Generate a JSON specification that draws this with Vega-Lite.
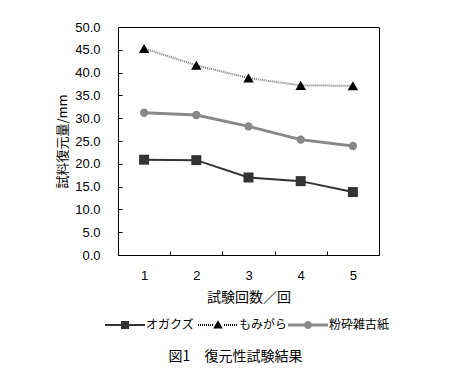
{
  "$schema": "https://vega.github.io/schema/vega-lite/v6.json",
  "width": 261,
  "height": 228,
  "autosize": {"type": "none"},
  "padding": {"left": 118, "top": 27, "right": 96, "bottom": 121},
  "background": "white",
  "config": {
    "view": {"stroke": "black", "strokeWidth": 1},
    "axis": {"labelFont": "Liberation Sans", "labelFontSize": 13, "labelColor": "black", "titleFont": "Noto Sans CJK JP", "titleFontSize": 13, "titleFontWeight": "normal", "titleColor": "black", "grid": false, "domain": false, "tickColor": "black"},
    "legend": {"title": null, "orient": "none", "labelOffset": 1, "symbolSize": 1600, "labelFont": "Noto Sans CJK JP", "labelFontSize": 12, "labelColor": "black", "symbolStrokeWidth": 0, "padding": 0}
  },
  "title": {"text": "図1　復元性試験結果", "orient": "bottom", "font": "Noto Sans CJK JP", "fontSize": 14, "fontWeight": "normal", "anchor": "middle", "dx": -13, "offset": 19},
  "data": {"values": [
    {"n": 1, "series": "オガクズ", "value": 20.9},
    {"n": 2, "series": "オガクズ", "value": 20.8},
    {"n": 3, "series": "オガクズ", "value": 17.0},
    {"n": 4, "series": "オガクズ", "value": 16.2},
    {"n": 5, "series": "オガクズ", "value": 13.8},
    {"n": 1, "series": "もみがら", "value": 45.3},
    {"n": 2, "series": "もみがら", "value": 41.6},
    {"n": 3, "series": "もみがら", "value": 38.8},
    {"n": 4, "series": "もみがら", "value": 37.2},
    {"n": 5, "series": "もみがら", "value": 37.1},
    {"n": 1, "series": "粉砕雑古紙", "value": 31.2},
    {"n": 2, "series": "粉砕雑古紙", "value": 30.7},
    {"n": 3, "series": "粉砕雑古紙", "value": 28.2},
    {"n": 4, "series": "粉砕雑古紙", "value": 25.3},
    {"n": 5, "series": "粉砕雑古紙", "value": 23.9}
  ]},
  "encoding": {
    "x": {"field": "n", "type": "ordinal", "scale": {"type": "band", "paddingInner": 0, "paddingOuter": 0},
      "axis": {"title": "試験回数／回", "labelAngle": 0, "tickBand": "extent", "tickSize": -4, "labelPadding": 18, "titlePadding": 8, "titleFontSize": 14}},
    "y": {"field": "value", "type": "quantitative", "scale": {"domain": [0, 50], "nice": false},
      "axis": {"title": "試料復元量/mm", "values": [0,5,10,15,20,25,30,35,40,45,50], "format": ".1f", "tickSize": -4, "labelPadding": 22, "titlePadding": 5}}
  },
  "layer": [
    {"transform": [{"filter": "datum.series === 'もみがら'"}], "mark": {"type": "line", "color": "#777777", "strokeWidth": 2, "strokeDash": [1, 1]}, "encoding": {}},
    {"transform": [{"filter": "datum.series === '粉砕雑古紙'"}], "mark": {"type": "line", "color": "#888888", "strokeWidth": 3}, "encoding": {}},
    {"transform": [{"filter": "datum.series === 'オガクズ'"}], "mark": {"type": "line", "color": "#333333", "strokeWidth": 2}, "encoding": {}},
    {"transform": [{"filter": "datum.series === 'オガクズ'"}],
      "mark": {"type": "point", "filled": true, "opacity": 1, "strokeWidth": 0, "shape": "square", "size": 100},
      "encoding": {"color": {"field": "series", "type": "nominal", "scale": {"domain": ["オガクズ"], "range": ["#333333"]},
        "legend": {"legendX": -13, "legendY": 278, "symbolType": "M-1,-0.05H1V0.05H-1Z M-0.2,-0.2H0.2V0.2H-0.2Z"}}}},
    {"transform": [{"filter": "datum.series === 'もみがら'"}],
      "mark": {"type": "point", "filled": true, "opacity": 1, "strokeWidth": 0, "shape": "triangle-up", "size": 110},
      "encoding": {"color": {"field": "series", "type": "nominal", "scale": {"domain": ["もみがら"], "range": ["#000000"]},
        "legend": {"legendX": 80, "legendY": 278, "symbolType": "M-1,-0.05h0.05v0.1h-0.05z M-0.9,-0.05h0.05v0.1h-0.05z M-0.8,-0.05h0.05v0.1h-0.05z M-0.7,-0.05h0.05v0.1h-0.05z M-0.6,-0.05h0.05v0.1h-0.05z M-0.5,-0.05h0.05v0.1h-0.05z M-0.4,-0.05h0.05v0.1h-0.05z M-0.3,-0.05h0.05v0.1h-0.05z M0.3,-0.05h0.05v0.1h-0.05z M0.4,-0.05h0.05v0.1h-0.05z M0.5,-0.05h0.05v0.1h-0.05z M0.6,-0.05h0.05v0.1h-0.05z M0.7,-0.05h0.05v0.1h-0.05z M0.8,-0.05h0.05v0.1h-0.05z M0.9,-0.05h0.05v0.1h-0.05z M0,-0.24L0.24,0.18H-0.24Z"}}}},
    {"transform": [{"filter": "datum.series === '粉砕雑古紙'"}],
      "mark": {"type": "point", "filled": true, "opacity": 1, "strokeWidth": 0, "shape": "circle", "size": 70},
      "encoding": {"color": {"field": "series", "type": "nominal", "scale": {"domain": ["粉砕雑古紙"], "range": ["#888888"]},
        "legend": {"legendX": 170, "legendY": 278, "symbolType": "M-1,-0.075H1V0.075H-1Z M-0.2,0A0.2,0.2 0 1,1 0.2,0A0.2,0.2 0 1,1 -0.2,0Z"}}}}
  ],
  "resolve": {"scale": {"color": "independent"}}
}
